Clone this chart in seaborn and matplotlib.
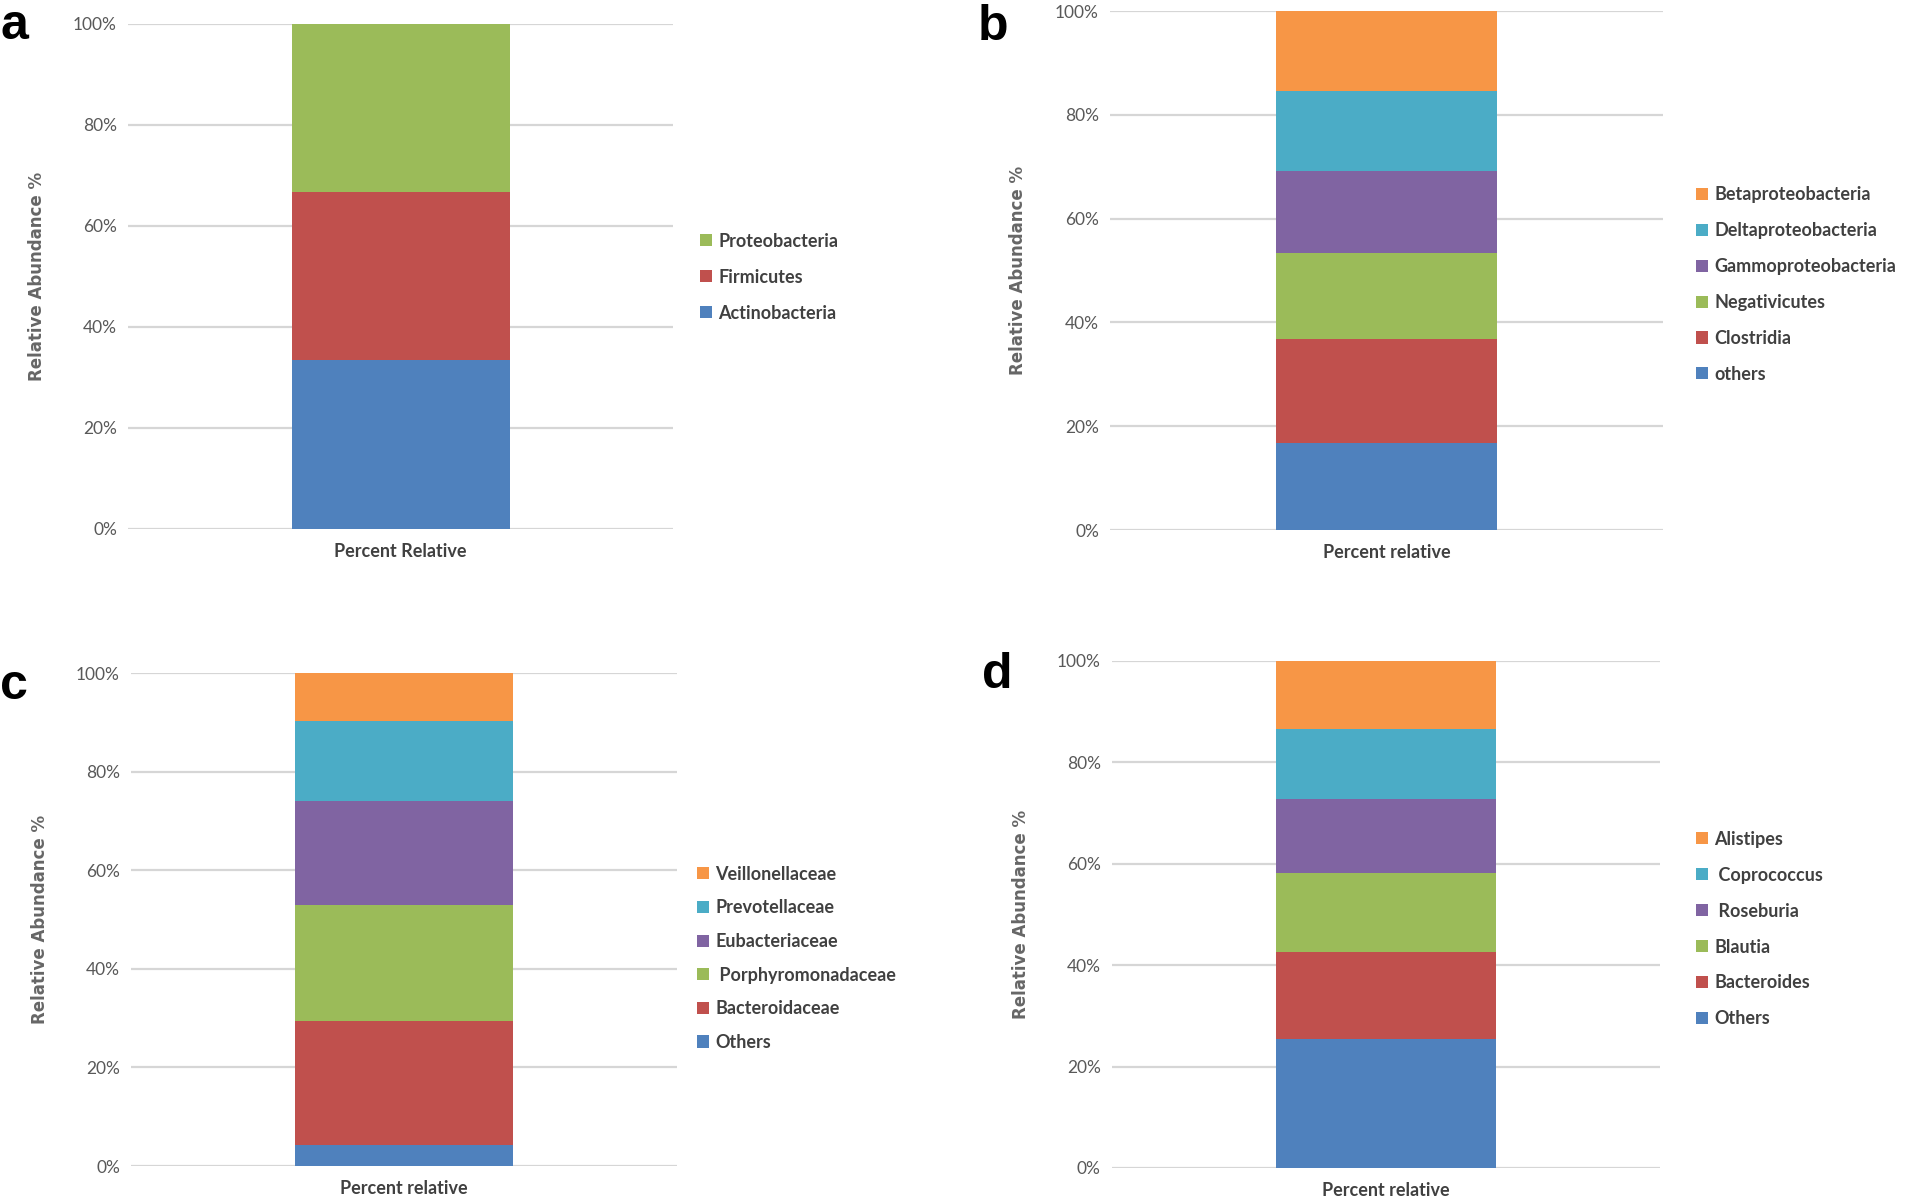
"""
Relative abundance stacked bars, four panels (phylum / class / family / genus)
"""

import numpy as np
import pandas as pd
import matplotlib
matplotlib.use('Agg')
import matplotlib.pyplot as plt
import seaborn as sns

sns.set_theme(style='white')
plt.rcParams['font.family'] = ['Lato', 'DejaVu Sans']

# Excel-ish default series colours
series_colors = ['#4F81BD', '#C0504D', '#9BBB59', '#8064A2', '#4BACC6', '#F79646']

# panel a - phylum
phylum_names = ['Actinobacteria', 'Firmicutes', 'Proteobacteria']
phylum_values = [33.4, 33.4, 33.2]

# panel b - class
class_names = ['others', 'Clostridia', 'Negativicutes', 'Gammoproteobacteria',
               'Deltaproteobacteria', 'Betaproteobacteria']
class_values = [16.7, 20.1, 16.6, 15.8, 15.4, 15.4]

# panel c - family
family_names = ['Others', 'Bacteroidaceae', ' Porphyromonadaceae', 'Eubacteriaceae',
                'Prevotellaceae', 'Veillonellaceae']
family_values = [4.3, 25.1, 23.6, 21.1, 16.2, 9.7]

# panel d - genus
genus_names = ['Others', 'Bacteroides', 'Blautia', ' Roseburia', ' Coprococcus', 'Alistipes']
genus_values = [25.4, 17.1, 15.7, 14.5, 13.9, 13.4]

y_ticks = [0, 20, 40, 60, 80, 100]


def stacked_panel(ax, names, values, xlabel, legend_xy, letter, letter_xy, fig, spacing=1.05):
    df = pd.DataFrame({'taxon': names, 'value': values})
    df['cum'] = np.cumsum(df['value'])
    # draw from the top of the stack down so each segment overlays the next
    for i in reversed(range(len(df))):
        sns.barplot(x=[xlabel], y=[df['cum'][i]], color=series_colors[i], width=0.4,
                    saturation=1, linewidth=0, ax=ax, label=df['taxon'][i], zorder=3)

    ax.set_ylim(0, 100)
    ax.set_xlim(-0.5, 0.5)
    ax.set_yticks(y_ticks)
    ax.set_yticklabels([f"{t}%" for t in y_ticks])
    ax.grid(axis='y', color='#D6D6D6', linewidth=1.6, zorder=0)
    ax.grid(axis='x', visible=False)
    ax.set_axisbelow(True)
    sns.despine(ax=ax, left=True, bottom=True)
    ax.tick_params(axis='y', length=0, pad=8, labelsize=12.5, labelcolor='#595959')
    ax.tick_params(axis='x', length=0, pad=10, labelsize=13, labelcolor='#404040')
    for lbl in ax.get_xticklabels():
        lbl.set_fontweight('bold')

    ax.set_ylabel('Relative Abundance %', fontsize=12, fontweight='bold', color='#666666',
                  family='DejaVu Sans')
    ax.yaxis.set_label_coords(-0.15, 0.5)
    ax.set_xlabel('')

    handles, labels = ax.get_legend_handles_labels()
    leg = ax.legend(handles, labels, loc='center left', bbox_to_anchor=legend_xy,
                    bbox_transform=fig.transFigure, frameon=False, fontsize=13,
                    handlelength=0.65, handleheight=0.65, handletextpad=0.35,
                    labelspacing=spacing, borderpad=0, borderaxespad=0)
    for t in leg.get_texts():
        t.set_color('#404040')
        t.set_fontweight('bold')

    fig.text(letter_xy[0], letter_xy[1], letter, fontsize=36, fontweight='bold',
             family='Liberation Sans', va='baseline', ha='left', color='black')


fig = plt.figure(figsize=(19.05, 12), dpi=100)

ax_a = fig.add_axes([0.0672, 0.5592, 0.2861, 0.4208])
ax_b = fig.add_axes([0.5827, 0.5583, 0.2903, 0.4325])
ax_c = fig.add_axes([0.0688, 0.0283, 0.2866, 0.4108])
ax_d = fig.add_axes([0.5837, 0.0267, 0.2877, 0.4225])

stacked_panel(ax_a, phylum_names, phylum_values, 'Percent Relative',
              (0.3675, 0.769), 'a', (0.0, 0.9675), fig)
stacked_panel(ax_b, class_names, class_values, 'Percent relative',
              (0.8905, 0.763), 'b', (0.5134, 0.9667), fig)
stacked_panel(ax_c, family_names, family_values, 'Percent relative',
              (0.3660, 0.2014), 'c', (0.0, 0.4175), fig, spacing=0.92)
stacked_panel(ax_d, genus_names, genus_values, 'Percent relative',
              (0.8905, 0.2258), 'd', (0.5154, 0.4267), fig)

fig.savefig('out.png', dpi=100)
plt.close(fig)
print("Saved out.png")
